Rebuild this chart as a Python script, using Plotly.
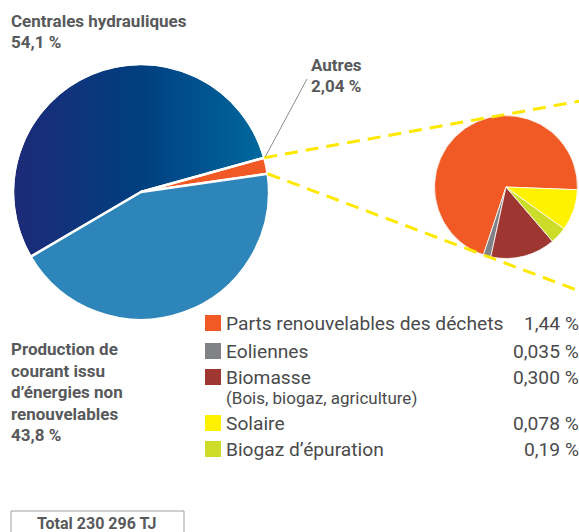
import math
import base64
import plotly.graph_objects as go

W, H = 579, 532

# ---------------- data ----------------
big_labels = ["Autres", "Centrales hydrauliques",
              "Production de courant issu d’énergies non renouvelables"]
big_values = [2.04, 54.1, 43.8]
big_value_text = ["2,04 %", "54,1 %", "43,8 %"]
big_colors = ["#f15a24", "rgba(0,0,0,0)", "#2e85b9"]   # hydraulic slice filled by gradient below

small_labels = ["Parts renouvelables des déchets", "Eoliennes", "Biomasse",
                "Solaire", "Biogaz d’épuration"]
small_values = [1.44, 0.035, 0.300, 0.078, 0.19]
small_value_text = ["1,44 %", "0,035 %", "0,300 %", "0,078 %", "0,19 %"]
small_notes = ["", "", "(Bois, biogaz, agriculture)", "", ""]
legend_colors = ["#f15a24", "#808285", "#9e3631", "#fff200", "#cddc29"]
small_pie_colors = ["#f15a24", "#808285", "#9e3631", "#cddc29", "#fff200"]

total_text = "Total 230 296 TJ"

# ---------------- geometry (pixels) ----------------
C1 = (141, 192); R1 = 128
C2 = (506, 187); R2 = 71.5
big_start = 8.2      # math angle (deg) of the first slice's clockwise edge
small_start = -2.2

def dom(c, r):
    return dict(x=[(c[0] - r) / W, (c[0] + r) / W],
                y=[1 - (c[1] + r) / H, 1 - (c[1] - r) / H])

def rot_for(start, values):
    a0 = 360 * values[0] / sum(values)
    r = 90 - start - a0
    while r <= -180:
        r += 360
    while r > 180:
        r -= 360
    return r

fig = go.Figure()
fig.add_trace(go.Pie(values=big_values, labels=big_labels, sort=False,
                     direction="counterclockwise", rotation=rot_for(big_start, big_values),
                     marker=dict(colors=big_colors, line=dict(color="white", width=2.5)),
                     textinfo="none", hoverinfo="label+percent", showlegend=False,
                     domain=dom(C1, R1)))
fig.add_trace(go.Pie(values=small_values, labels=small_labels, sort=False,
                     direction="counterclockwise", rotation=rot_for(small_start, small_values),
                     marker=dict(colors=small_pie_colors, line=dict(color="white", width=0.8)),
                     textinfo="none", hoverinfo="label+percent", showlegend=False,
                     domain=dom(C2, R2)))

# gradient disc under the pie (shows through the hydraulic slice)
svg = ('<svg xmlns="http://www.w3.org/2000/svg" width="256" height="256" viewBox="0 0 256 256">'
       '<defs><linearGradient id="g" x1="0" x2="1" y1="0" y2="0">'
       '<stop offset="0" stop-color="#1d2a78"/><stop offset="0.5" stop-color="#003f80"/>'
       '<stop offset="1" stop-color="#006a9e"/></linearGradient></defs>'
       '<circle cx="128" cy="128" r="127" fill="url(#g)"/></svg>')
src = "data:image/svg+xml;base64," + base64.b64encode(svg.encode()).decode()
images = [dict(source=src, xref="paper", yref="paper",
               x=(C1[0] - R1) / W, y=1 - (C1[1] - R1) / H,
               sizex=2 * R1 / W, sizey=2 * R1 / H,
               xanchor="left", yanchor="top", sizing="stretch", layer="below")]

# ---------------- connector lines ----------------
tot = sum(big_values)
a0 = math.radians(big_start)
a1 = math.radians(big_start + 360 * big_values[0] / tot)
P_low = (C1[0] + R1 * math.cos(a0), C1[1] - R1 * math.sin(a0))
P_up = (C1[0] + R1 * math.cos(a1), C1[1] - R1 * math.sin(a1))

def tangent_end(P, sign):
    dx, dy = C2[0] - P[0], C2[1] - P[1]
    d = math.hypot(dx, dy)
    th = math.atan2(dy, dx) + sign * math.asin(R2 / d)
    xe = W + 20
    t = (xe - P[0]) / math.cos(th)
    return (xe, P[1] + t * math.sin(th))

shapes = []
for P, s in ((P_up, -1), (P_low, 1)):
    E = tangent_end(P, s)
    shapes.append(dict(type="line", xref="paper", yref="paper",
                       x0=P[0] / W, y0=1 - P[1] / H, x1=E[0] / W, y1=1 - E[1] / H,
                       line=dict(color="#ffe800", width=3, dash="13px,8px")))

# leader line for "Autres"
shapes.append(dict(type="line", xref="paper", yref="paper",
                   x0=(P_up[0] + 1) / W, y0=1 - (P_up[1] - 1) / H,
                   x1=307 / W, y1=1 - 79 / H,
                   line=dict(color="#8c8c8c", width=1)))

annotations = []
BOLD = dict(family="Roboto", size=17, color="#58595b", weight="bold")

def txt(x, y, s, font, xanchor="left"):
    annotations.append(dict(x=x / W, y=1 - y / H, xref="paper", yref="paper", text=s,
                            showarrow=False, xanchor=xanchor, yanchor="middle",
                            font=font, align=xanchor, borderpad=0))

def block(x, y0, lines, step=21.2):
    for i, s in enumerate(lines):
        txt(x, y0 + i * step, s, BOLD)

block(10, 21, ["Centrales hydrauliques", big_value_text[1]])
block(310, 65, ["Autres", big_value_text[0]])
block(10, 349, ["Production de", "courant issu", "d’énergies non", "renouvelables",
                big_value_text[2]], step=21.5)

# custom legend
LEG = dict(family="Roboto", size=19.2, color="#4a4a4c")
NOTE = dict(family="Roboto", size=17, color="#4a4a4c")
rows_y = [323, 351, 377, 423, 449]
for i, lab in enumerate(small_labels):
    y = rows_y[i]
    shapes.append(dict(type="rect", xref="paper", yref="paper",
                       x0=205 / W, x1=221 / W, y0=1 - (y - 8) / H, y1=1 - (y + 8) / H,
                       fillcolor=legend_colors[i], line=dict(width=0)))
    txt(225, y, lab, LEG)
    txt(580, y, small_value_text[i], LEG, xanchor="right")
    if small_notes[i]:
        txt(225, y + 21, small_notes[i], NOTE)

# total box
shapes.append(dict(type="rect", xref="paper", yref="paper",
                   x0=11 / W, x1=184 / W, y0=1 - 511 / H, y1=1 - 545 / H,
                   line=dict(color="#a0a0a0", width=1), fillcolor="rgba(0,0,0,0)"))
txt(97.5, 523, total_text, dict(family="Roboto", size=16, color="#58595b", weight="bold"),
    xanchor="center")

fig.update_layout(width=W, height=H, margin=dict(l=0, r=0, t=0, b=0),
                  paper_bgcolor="white", plot_bgcolor="white",
                  shapes=shapes, annotations=annotations, images=images,
                  showlegend=False)
fig.write_html("out.html", config={"displayModeBar": False},
               post_script="document.body.style.margin='0';document.body.style.padding='0';")
